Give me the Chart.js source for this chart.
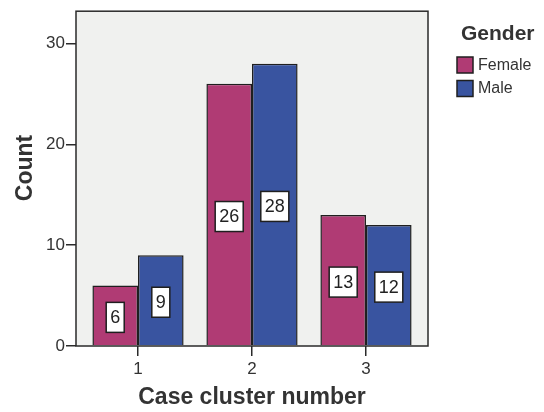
<!DOCTYPE html>
<html>
<head>
<meta charset="utf-8">
<script src="https://cdn.jsdelivr.net/npm/chart.js@4/dist/chart.umd.min.js"></script>
<style>
  html, body { margin: 0; padding: 0; background: #ffffff; }
  #wrap { width: 544px; height: 412px; }
</style>
</head>
<body>
<div id="wrap"><canvas id="c" width="544" height="412"></canvas></div>
<script>
const categories = [1, 2, 3];
const female = [6, 26, 13];
const male = [9, 28, 12];
const yTicks = [0, 10, 20, 30];
const seriesNames = ['Female', 'Male'];
const legendTitle = 'Gender';
const xTitle = 'Case cluster number';
const yTitle = 'Count';

const FEMALE_COLOR = '#B03B74';
const MALE_COLOR = '#3954A0';
const EDGE = '#1f1f1f';
const TEXT = '#333333';

const decor = {
  id: 'decor',
  beforeDraw(chart) {
    const { ctx, chartArea: a } = chart;
    ctx.save();
    ctx.fillStyle = '#F0F1EF';
    ctx.fillRect(a.left, a.top, a.right - a.left, a.bottom - a.top);
    ctx.restore();
  },
  afterDatasetsDraw(chart) {
    const { ctx } = chart;
    ctx.save();
    ctx.font = '18px "Liberation Sans", Arial, sans-serif';
    ctx.textAlign = 'center';
    ctx.textBaseline = 'middle';
    chart.data.datasets.forEach((ds, di) => {
      const meta = chart.getDatasetMeta(di);
      meta.data.forEach((bar, i) => {
        const txt = String(ds.data[i].y);
        const cx = bar.x;
        const cy = (bar.y + bar.base) / 2 + 2;
        const w = ctx.measureText(txt).width + 8;
        const h = 30;
        ctx.fillStyle = '#ffffff';
        ctx.fillRect(cx - w / 2, cy - h / 2, w, h);
        ctx.lineWidth = 1.5;
        ctx.strokeStyle = EDGE;
        ctx.strokeRect(cx - w / 2, cy - h / 2, w, h);
        ctx.fillStyle = '#222222';
        ctx.fillText(txt, cx, cy + 1);
      });
    });
    ctx.restore();
  },
  afterDraw(chart) {
    const { ctx, chartArea: a } = chart;
    ctx.save();
    ctx.lineWidth = 1.5;
    ctx.strokeStyle = '#2a2a2a';
    ctx.strokeRect(a.left, a.top, a.right - a.left, a.bottom - a.top);
    ctx.fillStyle = TEXT;
    ctx.font = 'bold 23px "Liberation Sans", Arial, sans-serif';
    ctx.textAlign = 'center';
    ctx.textBaseline = 'middle';
    ctx.translate(26, 168);
    ctx.rotate(-Math.PI / 2);
    ctx.fillText(yTitle, 0, 0);
    ctx.restore();

    ctx.save();
    ctx.fillStyle = TEXT;
    ctx.font = 'bold 21px "Liberation Sans", Arial, sans-serif';
    ctx.textAlign = 'left';
    ctx.textBaseline = 'middle';
    ctx.fillText(legendTitle, 461, 34);
    const colors = [FEMALE_COLOR, MALE_COLOR];
    ctx.font = '16px "Liberation Sans", Arial, sans-serif';
    seriesNames.forEach((name, i) => {
      const y = 57 + i * 23.5;
      ctx.fillStyle = colors[i];
      ctx.fillRect(457, y, 16, 16);
      ctx.lineWidth = 1.5;
      ctx.strokeStyle = EDGE;
      ctx.strokeRect(457, y, 16, 16);
      ctx.fillStyle = TEXT;
      ctx.fillText(name, 478, y + 8.5);
    });
    ctx.restore();
  }
};

new Chart(document.getElementById('c'), {
  type: 'bar',
  data: {
    datasets: [
      {
        label: seriesNames[0],
        data: categories.map((c, i) => ({ x: c, y: female[i] })),
        backgroundColor: FEMALE_COLOR,
        borderColor: EDGE,
        borderWidth: 1.5
      },
      {
        label: seriesNames[1],
        data: categories.map((c, i) => ({ x: c, y: male[i] })),
        backgroundColor: MALE_COLOR,
        borderColor: EDGE,
        borderWidth: 1.5
      }
    ]
  },
  options: {
    responsive: false,
    animation: false,
    devicePixelRatio: 1,
    categoryPercentage: 0.8,
    barPercentage: 1.0,
    layout: { padding: { top: 7, right: 116, left: 0, bottom: 0 } },
    plugins: { legend: { display: false }, tooltip: { enabled: false } },
    scales: {
      x: {
        type: 'linear',
        min: 0.456,
        max: 3.544,
        offset: false,
        afterFit(s) { s.height = 66; },
        afterBuildTicks(s) { s.ticks = categories.map(v => ({ value: v })); },
        ticks: {
          stepSize: 1,
          includeBounds: false,
          color: TEXT,
          font: { family: '"Liberation Sans", Arial, sans-serif', size: 17 },
          padding: 3
        },
        grid: { offset: false, drawOnChartArea: false, drawTicks: true, tickLength: 10, color: '#2a2a2a', lineWidth: 1.5 },
        border: { display: false },
        title: {
          display: true,
          text: xTitle,
          color: TEXT,
          font: { family: '"Liberation Sans", Arial, sans-serif', size: 23, weight: 'bold' },
          padding: { top: 0, bottom: 1 }
        }
      },
      y: {
        min: 0,
        max: 33.2,
        afterFit(s) { s.width = 76; },
        afterBuildTicks(s) { s.ticks = yTicks.map(v => ({ value: v })); },
        ticks: {
          stepSize: 10,
          includeBounds: false,
          color: TEXT,
          font: { family: '"Liberation Sans", Arial, sans-serif', size: 17 },
          padding: 1
        },
        grid: { drawOnChartArea: false, drawTicks: true, tickLength: 10, color: '#2a2a2a', lineWidth: 1.5 },
        border: { display: false }
      }
    }
  },
  plugins: [decor]
});
</script>
</body>
</html>
